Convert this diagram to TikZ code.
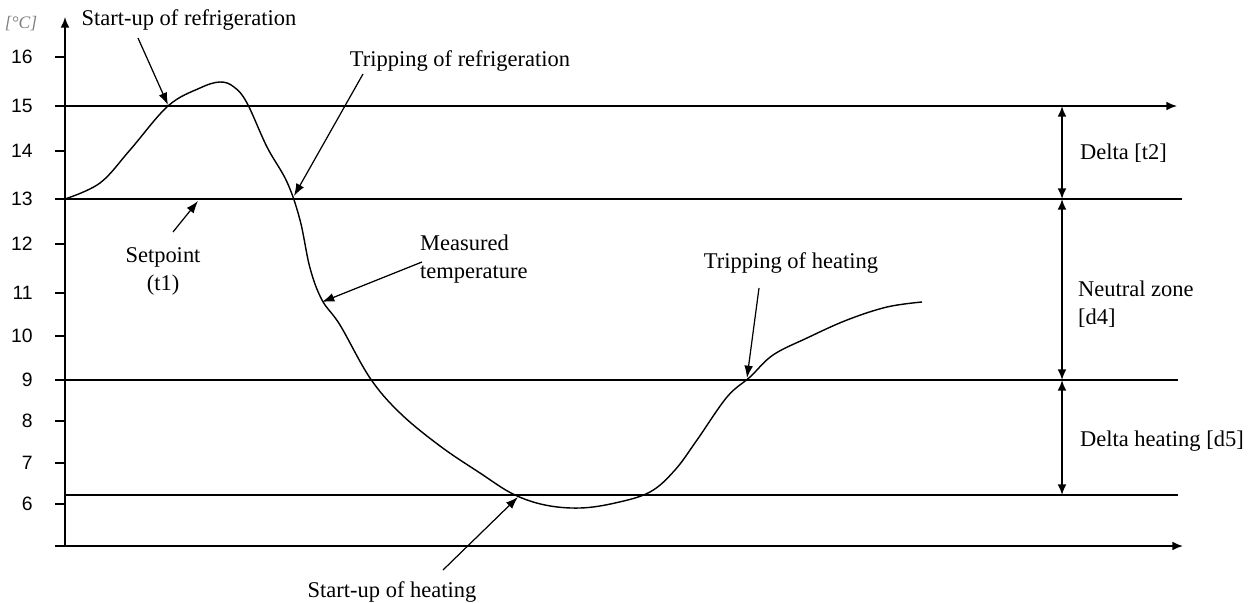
\documentclass[tikz,border=0pt]{standalone}
\usepackage{fontspec}
\setmainfont{Liberation Serif}
\setsansfont{Liberation Sans}
\usetikzlibrary{arrows.meta, positioning}
\tikzset{
  axis/.style={line width=1pt, -{Latex[length=6pt,width=5pt]}},
  level/.style={line width=1pt},
  dim/.style={line width=1pt, {Latex[length=6pt,width=5pt]}-{Latex[length=6pt,width=5pt]}},
  pointer/.style={line width=0.7pt, -{Latex[length=7pt,width=5pt]}},
  curve/.style={line width=0.8pt},
  note/.style={font=\fontsize{12.8}{16}\selectfont, inner sep=1pt},
  ticklabel/.style={font=\sffamily\fontsize{11}{13}\selectfont, anchor=east, inner sep=0pt}
}

\begin{document}
\begin{tikzpicture}[x=0.02cm, y=-0.02cm]
    \useasboundingbox (0,0) rectangle (1254,602);

    % Ejes
    \coordinate (O) at (65,546);
    \coordinate (Ytop) at (65,17);
    \coordinate (Xl) at (55,546);
    \coordinate (Xr) at (1183,546);
    \draw[axis] (O) -- (Ytop);
    \draw[axis] (Xl) -- (Xr);
    \node[font=\itshape\fontsize{10}{12}\selectfont, text=gray, inner sep=0pt] (unit) at (21,24) {[°C]};

    % Escala de temperatura
    \foreach \v/\y in {16/57, 15/106, 14/151, 13/199, 12/244, 11/293, 10/336, 9/380, 8/421, 7/463, 6/504} {
        \draw[level] (55,\y) -- (65,\y);
        \node[ticklabel] (t\v) at (33,\y) {\v};
    }

    % Niveles de consigna
    \draw[axis] (65,106) coordinate (L15) -- (1177,106) coordinate (R15);
    \draw[level] (65,199) coordinate (L13) -- (1182,199) coordinate (R13);
    \draw[level] (65,380) coordinate (L9) -- (1178,380) coordinate (R9);
    \draw[level] (65,495) coordinate (L6) -- (1178,495) coordinate (R6);

    % Cotas a la derecha
    \coordinate (d15) at (1062,106);
    \coordinate (d13) at (1062,199);
    \coordinate (d9) at (1062,380);
    \coordinate (d6) at (1062,495);
    \draw[dim] (d15) -- (d13);
    \draw[dim] (d13) -- (d9);
    \draw[dim] (d9) -- (d6);
    \node[note, anchor=west] (delta) at (1078,153) {Delta [t2]};
    \node[note, anchor=west, align=left] (neutral) at (1076,304) {Neutral zone\\{[d4]}};
    \node[note, anchor=west] (deltaheat) at (1078,441) {Delta heating [d5]};

    % Temperatura medida
    \draw[curve] plot[smooth, tension=0.6] coordinates {
        (65,199) (100,183) (130,150) (168,106) (200,88) (220,82) (234,87)
        (247,103) (267,147) (287,182) (300,220) (310,268) (322,300) (340,325)
        (370,378) (400,413) (440,446) (480,473) (513,494) (545,505) (580,508)
        (615,503) (650,492) (675,470) (697,440) (727,397) (750,377) (773,355)
        (807,338) (847,320) (887,307) (922,302)
    };

    % Anotaciones
    \node[note] (startref) at (189,20) {Start-up of refrigeration};
    \coordinate (startrefA) at (138,38);
    \coordinate (startrefB) at (168,105);
    \draw[pointer] (startrefA) -- (startrefB);

    \node[note] (tripref) at (460,61) {Tripping of refrigeration};
    \coordinate (triprefA) at (363,74);
    \coordinate (triprefB) at (294,196);
    \draw[pointer] (triprefA) -- (triprefB);

    \node[note, align=center] (setpoint) at (163,271) {Setpoint\\(t1)};
    \coordinate (setpointA) at (173,232);
    \coordinate (setpointB) at (198,201);
    \draw[pointer] (setpointA) -- (setpointB);

    \node[note, anchor=west, align=left] (measured) at (418,259) {Measured\\temperature};
    \coordinate (measuredA) at (422,262);
    \coordinate (measuredB) at (322,302);
    \draw[pointer] (measuredA) -- (measuredB);

    \node[note] (tripheat) at (791,263) {Tripping of heating};
    \coordinate (tripheatA) at (759,288);
    \coordinate (tripheatB) at (747,378);
    \draw[pointer] (tripheatA) -- (tripheatB);

    \node[note] (startheat) at (392,592) {Start-up of heating};
    \coordinate (startheatA) at (443,570);
    \coordinate (startheatB) at (518,497);
    \draw[pointer] (startheatA) -- (startheatB);

\end{tikzpicture}
\end{document}
